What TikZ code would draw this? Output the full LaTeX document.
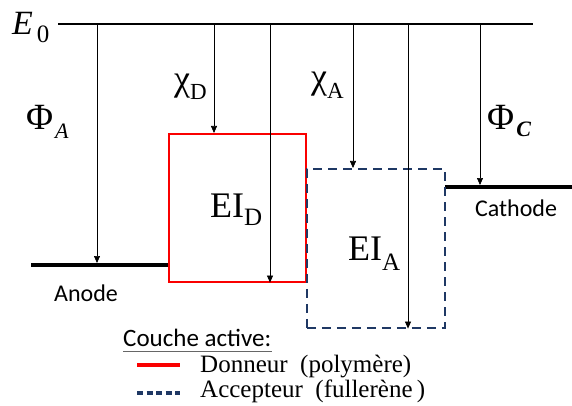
\documentclass[tikz,border=0pt]{standalone}
\usepackage{fontspec}
\setmainfont{Liberation Serif}
\newfontfamily\calib{Carlito}
\usetikzlibrary{arrows.meta}
\definecolor{navy}{RGB}{31,56,100}
\definecolor{lred}{RGB}{250,0,0}
\newcommand{\fs}[1]{\fontsize{#1}{#1}\selectfont}
\begin{document}
\begin{tikzpicture}[x=1pt,y=-1pt,
  arr/.style={-{Triangle[length=7pt,width=6pt]}, line width=0.7pt},
  elec/.style={line width=4pt},
  lbl/.style={inner sep=0, anchor=base west},
  sanslbl/.style={inner sep=0, anchor=base, font=\calib\fs{24}}]
\useasboundingbox (0,0) rectangle (572,406);
% vacuum level
\coordinate (e0l) at (58,24);
\coordinate (e0r) at (533,24);
\draw[line width=2pt] (e0l) -- (e0r);
% electrodes
\coordinate (anL) at (31,265);
\coordinate (anR) at (168,265);
\coordinate (caL) at (445,187);
\coordinate (caR) at (572,187);
\draw[elec] (anL) -- (anR);
\draw[elec] (caL) -- (caR);
% boxes
\node[draw=lred, line width=1.6pt, minimum width=137pt, minimum height=148pt,
      inner sep=0, anchor=north west] (don) at (168,133) {};
\node[draw=navy, line width=1.6pt, dash pattern=on 9pt off 6pt, minimum width=138pt,
      minimum height=159pt, inner sep=0, anchor=north west] (acc) at (306,168) {};
% arrow starts
\coordinate (pA) at (97,24);
\coordinate (xD) at (214,24);
\coordinate (iD) at (270,24);
\coordinate (xA) at (353,24);
\coordinate (iA) at (408,24);
\coordinate (pC) at (480,24);
\draw[arr, shorten >=2pt] (pA) -- (pA |- anL);
\draw[arr] (xD) -- (xD |- don.north);
\draw[arr] (iD) -- (iD |- don.south);
\draw[arr] (xA) -- (xA |- acc.north);
\draw[arr] (iA) -- (iA |- acc.south);
\draw[arr, shorten >=2pt] (pC) -- (pC |- caL);
% labels
\node[lbl] (lE) at (12,35) {\fs{34}\itshape E\kern4pt\raisebox{-8pt}{\upshape\fs{25}0}};
\node[lbl] (lPA) at (26,130) {\fs{37}Φ\kern2pt\raisebox{-9pt}{\itshape\fs{22}A}};
\node[lbl] (lXD) at (174,91) {\fs{36}χ\raisebox{-9pt}{\fs{23}D}};
\node[lbl] (lXA) at (311,89) {\fs{36}χ\raisebox{-10pt}{\fs{23}A}};
\node[lbl] (lPC) at (487,130) {\fs{37}Φ\kern2pt\raisebox{-7pt}{\bfseries\itshape\fs{22}C}};
\node[lbl] (lID) at (210,217) {\fs{36}EI\raisebox{-8pt}{\fs{25}D}};
\node[lbl] (lIA) at (348,260) {\fs{36}EI\raisebox{-10pt}{\fs{25}A}};
\node[sanslbl] (lan) at (86,301) {Anode};
\node[sanslbl] (lca) at (516,216) {Cathode};
% legend
\node[lbl, font=\calib\fs{25}] (lc) at (123,346) {Couche active:};
\draw[line width=1pt, black!60] (lc.south west) ++(0,5) coordinate (ul) -- (ul -| lc.south east);
\coordinate (r1) at (137,365);
\coordinate (r2) at (180,365);
\draw[lred, line width=4pt] (r1) -- (r2);
\coordinate (b1) at (137,393);
\coordinate (b2) at (180,393);
\draw[navy, line width=4pt, dash pattern=on 6pt off 3.5pt] (b1) -- (b2);
\node[lbl] (ld) at (200,372) {\fs{25}Donneur\ \ (polymère)};
\node[lbl] (la) at (200,397) {\fs{25}Accepteur\ \ (fullerène\,)};
\end{tikzpicture}
\end{document}
